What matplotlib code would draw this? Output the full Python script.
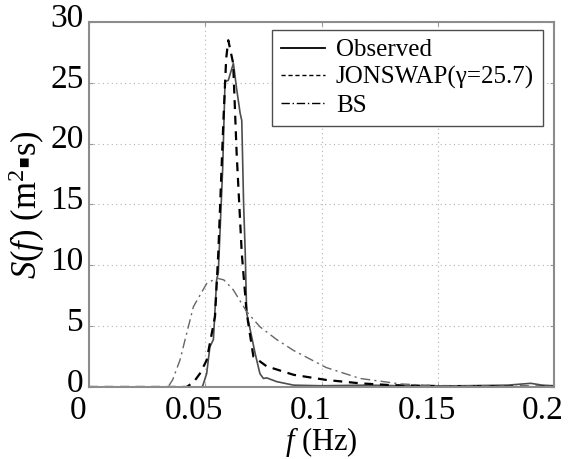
import matplotlib
matplotlib.use("Agg")
import matplotlib.pyplot as plt
import matplotlib.transforms as mtransforms

plt.rcParams['font.family'] = ['Liberation Serif', 'DejaVu Serif']
plt.rcParams['mathtext.fontset'] = 'custom'
plt.rcParams['mathtext.rm'] = 'Liberation Serif'
plt.rcParams['mathtext.it'] = 'Liberation Serif:italic'

# Observed spectrum
obs_f = [0.0, 0.045, 0.0486, 0.049, 0.0506, 0.052, 0.0535, 0.0549, 0.0556,
         0.0575, 0.0585, 0.0599, 0.0621, 0.0635, 0.065, 0.0657, 0.0665,
         0.0672, 0.0678, 0.0714, 0.0735, 0.075, 0.0764, 0.0807, 0.088,
         0.1, 0.12, 0.14, 0.16, 0.18, 0.19, 0.195, 0.2]
obs_s = [0.0, 0.0, 0.0, 0.15, 1.1, 3.3, 3.9, 8.8, 9.4,
         18.0, 25.1, 25.2, 26.6, 24.5, 22.5, 21.9, 15.0,
         11.0, 6.1, 2.8, 1.1, 0.7, 0.75, 0.44, 0.15,
         0.1, 0.15, 0.08, 0.1, 0.15, 0.3, 0.15, 0.1]

# JONSWAP fit (gamma = 25.7)
jon_f = [0.0, 0.042, 0.045, 0.0477, 0.0506, 0.0542, 0.0556, 0.0578, 0.059,
         0.0599, 0.061, 0.062, 0.0635, 0.0657, 0.0678, 0.0707, 0.0764,
         0.088, 0.102, 0.1166, 0.13, 0.15, 0.2]
jon_s = [0.0, 0.0, 0.4, 1.1, 2.2, 5.8, 11.0, 21.9, 27.0,
         28.5, 27.5, 26.6, 19.2, 11.0, 6.1, 2.5, 1.7,
         1.0, 0.58, 0.3, 0.15, 0.08, 0.02]

# BS spectrum
bs_f = [0.0, 0.034, 0.036, 0.0391, 0.0449, 0.0506, 0.0549, 0.058, 0.062,
        0.0678, 0.0735, 0.0807, 0.088, 0.102, 0.1166, 0.134, 0.15, 0.2]
bs_s = [0.0, 0.0, 0.6, 2.2, 6.6, 8.5, 8.95, 8.8, 8.0,
        6.2, 4.95, 3.9, 3.0, 1.6, 0.7, 0.25, 0.1, 0.02]

xticks = [0, 0.05, 0.1, 0.15, 0.2]
xticklabels = ['0', '0.05', '0.1', '0.15', '0.2']
yticks = [0, 5, 10, 15, 20, 25, 30]

fig = plt.figure(figsize=(5.75, 4.59), dpi=100)
ax = fig.add_axes([0.1548, 0.1569, 0.8087, 0.7952])

ax.plot(obs_f, obs_s, color='0.3', lw=1.2, linestyle='-', label='Observed')
ax.plot(jon_f, jon_s, color='black', lw=1.6, linestyle=(0, (4, 3)),
        label='JONSWAP(\u03b3=25.7)')
ax.plot(bs_f, bs_s, color='0.4', lw=1.0, linestyle=(0, (7, 3, 1.5, 3)),
        label='BS')

ax.set_xlim(0, 0.2)
ax.set_ylim(0, 30)
ax.set_xticks(xticks)
ax.set_xticklabels(xticklabels)
ax.set_yticks(yticks)

ax.grid(True, linestyle=(0, (1, 3)), color='0.7', lw=0.8)
ax.tick_params(direction='in', length=3, color='0.6', top=True, right=True,
               labelsize=24)
ax.tick_params(axis='x', pad=6)
ax.tick_params(axis='y', pad=4)
for sp in ax.spines.values():
    sp.set_color('0.55')
    sp.set_linewidth(1.5)

# shift tick labels like the original export
dx = mtransforms.ScaledTranslation(-11 / 100, 0, fig.dpi_scale_trans)
for lab in ax.get_xticklabels():
    lab.set_transform(lab.get_transform() + dx)
dy = mtransforms.ScaledTranslation(0, 7 / 100, fig.dpi_scale_trans)
for lab in ax.get_yticklabels():
    lab.set_transform(lab.get_transform() + dy)

ax.set_xlabel('$f$ (Hz)', fontsize=22)
ax.xaxis.set_label_coords(0.5, -0.105)
ax.xaxis.label.set_va('top')
ax.set_ylabel('$S(f)$ (m$^2$\u25aas)', fontsize=25)
ax.yaxis.set_label_coords(-0.09, 0.5)

leg_handles = [
    plt.Line2D([], [], color='black', lw=1.3, linestyle='-'),
    plt.Line2D([], [], color='black', lw=1.0, linestyle=(0, (3, 2))),
    plt.Line2D([], [], color='black', lw=1.0, linestyle=(0, (6, 2, 1, 2))),
]
leg = ax.legend(leg_handles, ['Observed', 'JONSWAP(\u03b3=25.7)', 'BS'],
                loc='upper right', bbox_to_anchor=(0.976, 0.978),
                borderaxespad=0, fontsize=18, frameon=True, fancybox=False,
                handlelength=1.75, handletextpad=0.45, labelspacing=0.2,
                borderpad=0.35)
leg.get_frame().set_edgecolor('0.3')
leg.get_frame().set_linewidth(1.0)
leg.get_frame().set_alpha(1)

fig.savefig('out.png', dpi=100)
